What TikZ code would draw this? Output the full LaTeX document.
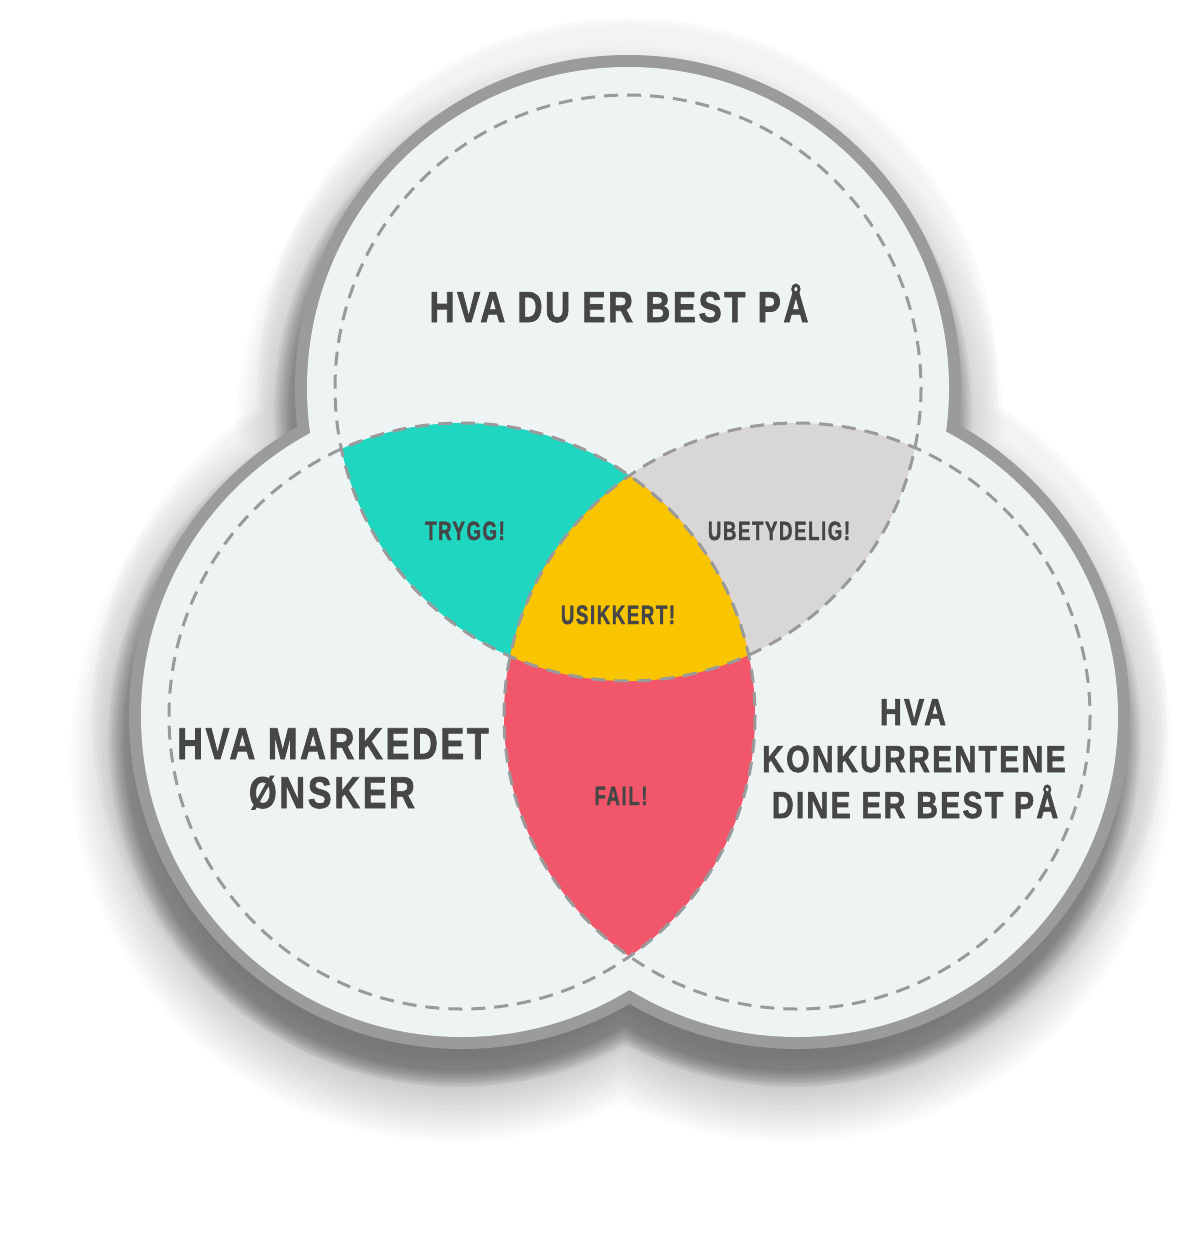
\documentclass[tikz,border=0pt]{standalone}
\usepackage{fontspec}
\setmainfont{Liberation Sans}
\newfontfamily\bigfont[FakeStretch=0.8,LetterSpace=6,BoldFeatures={FakeBold=1.6}]{Liberation Sans}
\newfontfamily\smallfont[FakeStretch=0.7,LetterSpace=6,BoldFeatures={FakeBold=1.4}]{Liberation Sans}
\definecolor{txt}{HTML}{464646}
\definecolor{plate}{HTML}{EEF3F4}
\definecolor{ringc}{HTML}{9B9B9B}
\definecolor{rimc}{HTML}{F3F3F3}
\definecolor{dashc}{HTML}{9A9A9A}
\definecolor{tealc}{HTML}{1FD6C1}
\definecolor{yelc}{HTML}{F8C500}
\definecolor{grayc}{HTML}{D9D7D5}
\definecolor{redc}{HTML}{F2566B}
\newcommand\trefoilpath[1]{(628,388) circle[radius=#1] (462,716) circle[radius=#1] (797,716) circle[radius=#1]}
\newcommand\topc[1]{(628,388) circle[radius=#1]}
\newcommand\leftc[1]{(462,716) circle[radius=#1]}
\newcommand\rightc[1]{(797,716) circle[radius=#1]}
\begin{document}
\begin{tikzpicture}[x=0.5pt,y=-0.5pt,
  bigtxt/.style={text=txt, font=\bigfont\bfseries\fontsize{21.65}{26}\selectfont, inner sep=0pt, anchor=base},
  lefttxt/.style={bigtxt, font=\bigfont\bfseries\fontsize{22.3}{26}\selectfont},
  righttxt/.style={bigtxt, font=\bigfont\bfseries\fontsize{18.85}{23}\selectfont},
  smalltxt/.style={text=txt, font=\smallfont\bfseries\fontsize{13.3}{16}\selectfont, inner sep=0pt, anchor=base},
  dashcircle/.style={draw=dashc, line width=1.5pt, dash pattern=on 7pt off 4.5pt}]
\useasboundingbox (0,0) rectangle (1200,1236);
\fill[white] (0,0) rectangle (1200,1236);
% light rim (soft edge)
\foreach \r in {370,367,364} {
  \fill[rimc, opacity=0.4] \trefoilpath{\r};
}
\fill[rimc] \trefoilpath{361};
% outer soft shadow
\begin{scope}[shift={(-8,42)}]
\foreach \k in {0,...,19} {
  \fill[black, opacity=0.014] \trefoilpath{298+4.5*\k};
}
\end{scope}
% shadow of the plate
\begin{scope}[shift={(-5,22)}]
\foreach \k in {0,...,8} {
  \fill[black, opacity=0.034] \trefoilpath{333+2*\k};
}
\end{scope}
% grey ring and plate
\fill[ringc] \trefoilpath{333};
\fill[plate] \trefoilpath{321};
% coloured regions
\begin{scope}
\clip \topc{293};
\fill[tealc] \leftc{293};
\fill[grayc] \rightc{293};
\end{scope}
\begin{scope}
\clip \leftc{293};
\fill[redc] \rightc{293};
\end{scope}
\begin{scope}
\clip \topc{293};
\clip \leftc{293};
\fill[yelc] \rightc{293};
\end{scope}
% dashed circles
\path[dashcircle] \topc{293};
\path[dashcircle] \leftc{293};
\path[dashcircle] \rightc{293};
% texts
\node[bigtxt] (title) at (619,322) {HVA DU ER BEST PÅ};
\node[lefttxt] (mk1) at (333,759) {HVA MARKEDET};
\node[lefttxt] (mk2) at (332,808) {ØNSKER};
\node[righttxt] (kk1) at (913,725) {HVA};
\node[righttxt] (kk2) at (914,772) {KONKURRENTENE};
\node[righttxt] (kk3) at (915,818) {DINE ER BEST PÅ};
\node[smalltxt] (trygg) at (465,540) {TRYGG!};
\node[smalltxt] (ubet) at (779,540) {UBETYDELIG!};
\node[smalltxt] (usik) at (618,624) {USIKKERT!};
\node[smalltxt] (fail) at (621,805) {FAIL!};
\end{tikzpicture}
\end{document}
